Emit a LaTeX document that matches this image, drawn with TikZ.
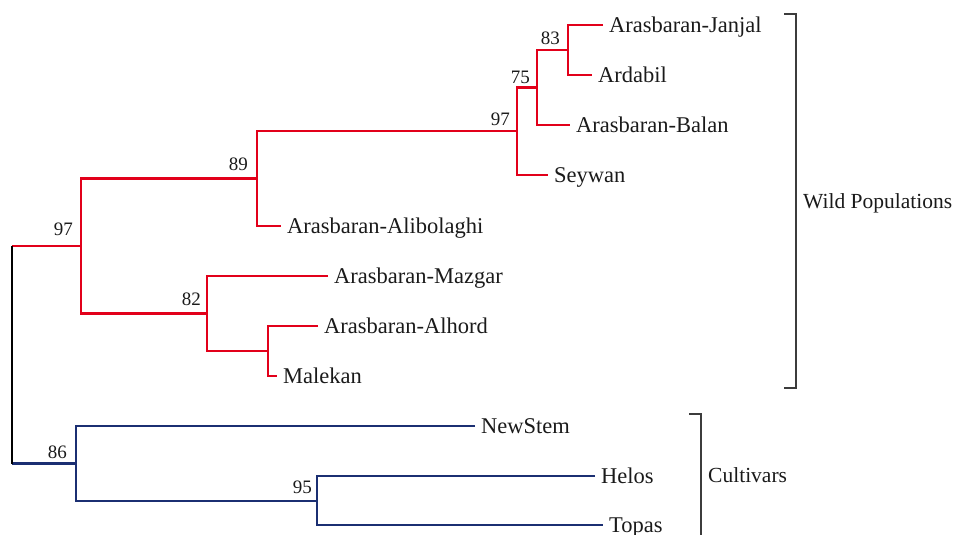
\documentclass[tikz,border=0pt]{standalone}
\usepackage{fontspec}
\setmainfont{Liberation Serif}
\definecolor{treered}{HTML}{E2001A}
\definecolor{treeblue}{HTML}{1B2F72}
\definecolor{brk}{HTML}{3C3C3C}
\definecolor{txt}{HTML}{1A1A1A}
\begin{document}
\begin{tikzpicture}[x=1pt,y=-1pt,
  leaf/.style={anchor=west, inner xsep=6pt, inner ysep=0pt, text height=15pt, text depth=0pt,
               font=\fontsize{22.5}{26}\selectfont, text=txt},
  group/.style={anchor=west, inner xsep=0pt, inner ysep=0pt, text height=15pt, text depth=0pt,
               font=\fontsize{21.5}{26}\selectfont, text=txt},
  boot/.style={anchor=base east, inner sep=0pt, font=\fontsize{19}{22}\selectfont, text=txt},
  redb/.style={draw=treered, line width=2.9pt, line join=miter},
  blueb/.style={draw=treeblue, line width=2.9pt, line join=miter},
  rootb/.style={draw=black, line width=1.3pt},
  bracket/.style={draw=brk, line width=1.8pt, line join=miter}
]
\useasboundingbox (0,0) rectangle (955,535);

% internal nodes
\coordinate (c83) at (568,50);
\coordinate (c75) at (537,87.5);
\coordinate (c97b) at (517,131);
\coordinate (c89) at (257,178.5);
\coordinate (cam) at (268,351);
\coordinate (c82) at (207,313.5);
\coordinate (c97a) at (81,246);
\coordinate (c95) at (317,501);
\coordinate (c86) at (76,463.5);
\coordinate (rtop) at (12,246);
\coordinate (rbot) at (12,463.5);

% leaves
\node[leaf] (janjal) at (603,25) {Arasbaran-Janjal};
\node[leaf] (ardabil) at (592,75) {Ardabil};
\node[leaf] (balan) at (570,125) {Arasbaran-Balan};
\node[leaf] (seywan) at (548,175) {Seywan};
\node[leaf] (alibolaghi) at (281,226) {Arasbaran-Alibolaghi};
\node[leaf] (mazgar) at (328,276) {Arasbaran-Mazgar};
\node[leaf] (alhord) at (318,326) {Arasbaran-Alhord};
\node[leaf] (malekan) at (277,376) {Malekan};
\node[leaf] (newstem) at (475,426) {NewStem};
\node[leaf] (helos) at (595,476) {Helos};
\node[leaf] (topas) at (603,525) {Topas};

% red clade
\draw[redb] (janjal.west) -| (c83) |- (ardabil.west);
\draw[redb] (c83) -| (c75) |- (balan.west);
\draw[redb] (c75) -| (c97b) |- (seywan.west);
\draw[redb] (c97b) -| (c89) |- (alibolaghi.west);
\draw[redb] (mazgar.west) -| (c82) |- (cam);
\draw[redb] (alhord.west) -| (cam) |- (malekan.west);
\draw[redb] (c89) -| (c97a) |- (c82);
\draw[redb] (rtop) -- (c97a);

% blue clade
\draw[blueb] (helos.west) -| (c95) |- (topas.west);
\draw[blueb] (newstem.west) -| (c86) |- (c95);
\draw[blueb] (rbot) -- (c86);

% root
\draw[rootb] (rtop) -- (rbot);

% bootstrap values
\node[boot] (b83) at (560,45) {83};
\node[boot] (b75) at (530,83) {75};
\node[boot] (b97b) at (510,125) {97};
\node[boot] (b89) at (248,170) {89};
\node[boot] (b97a) at (73,235) {97};
\node[boot] (b82) at (201,305) {82};
\node[boot] (b86) at (67,458) {86};
\node[boot] (b95) at (312,493) {95};

% group brackets
\draw[bracket] (784,14) -- (796,14) -- (796,388) -- (784,388);
\node[group] (wild) at (803,200.5) {Wild Populations};
\draw[bracket] (689,414) -- (701,414) -- (701,540);
\node[group] (cult) at (708,475) {Cultivars};
\end{tikzpicture}
\end{document}
